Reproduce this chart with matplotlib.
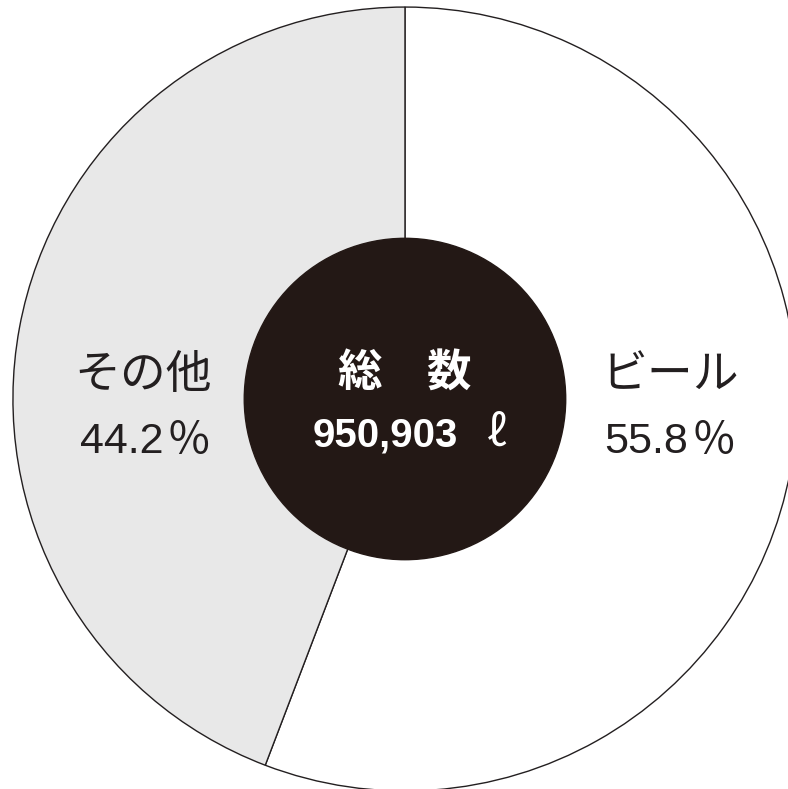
import matplotlib
matplotlib.use('Agg')
import numpy as np
from matplotlib import pyplot as plt

# data
labels = ['ビール', 'その他']
shares = [55.8, 44.2]
colors = ['#ffffff', '#e8e8e8']
total_label = '総　数'
total_value = '950,903'
unit = 'ℓ'

ink = '#231f20'
plt.rcParams['font.family'] = ['Noto Sans CJK JP', 'DejaVu Sans']

fig = plt.figure(figsize=(7.88, 7.89), dpi=100)
ax = fig.add_axes([0, 0, 1, 1])
ax.pie(shares, colors=colors, startangle=90, counterclock=False, radius=1.0,
       wedgeprops=dict(edgecolor=ink, linewidth=1.0))
ax.add_patch(plt.Circle((0, 0), 0.41, color='#231815', zorder=3))

ax.set_xlim(-1.033, 0.977)
ax.set_ylim(-0.995, 1.018)
ax.set_aspect('auto')
ax.axis('off')

num_font = 'Liberation Sans'

def pct_label(x, y, value):
    ax.text(x, y, f'{value}', ha='right', va='baseline', fontsize=31,
            color=ink, family=num_font)
    ax.text(x + 0.008, y - 0.004, '％', ha='left', va='baseline', fontsize=32,
            color=ink, family='Noto Sans CJK JP')

# segment labels
ax.text(-0.668, 0.061, labels[1], ha='center', va='center', fontsize=33, color=ink)
pct_label(-0.617, -0.137, shares[1])
ax.text(0.676, 0.061, labels[0], ha='center', va='center', fontsize=33, color=ink)
pct_label(0.722, -0.137, shares[0])

# centre
ax.text(0.0, 0.066, total_label, ha='center', va='center', fontsize=32,
        color='white', fontweight='bold', zorder=4)
ax.text(0.135, -0.122, total_value, ha='right', va='baseline', fontsize=29,
        color='white', fontweight='bold', family=num_font, zorder=4)
ax.text(0.21, -0.122, unit, ha='left', va='baseline', fontsize=31,
        color='white', family='Noto Sans CJK JP', zorder=4)

plt.savefig('out.png', dpi=100)
